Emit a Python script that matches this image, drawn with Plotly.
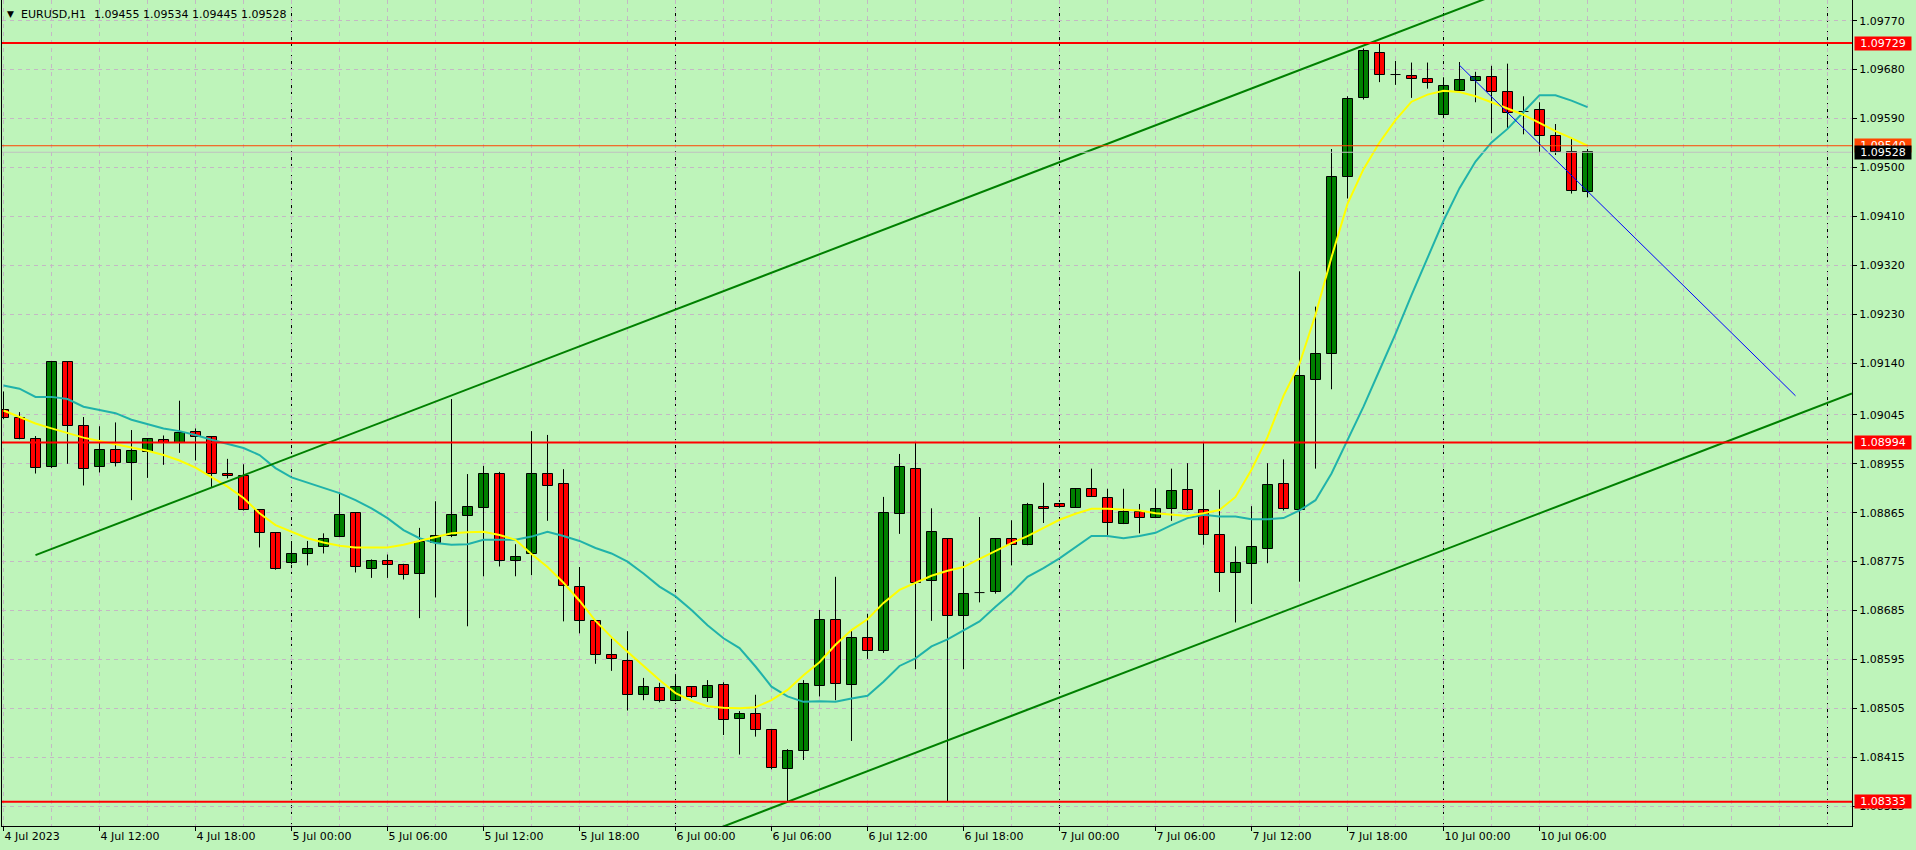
import plotly.graph_objects as go
import pandas as pd

symbol = "EURUSD,H1"
header_prices = "1.09455 1.09534 1.09445 1.09528"

times = (list(pd.date_range("2023-07-04 06:00", "2023-07-07 23:00", freq="h"))
         + list(pd.date_range("2023-07-10 00:00", "2023-07-10 09:00", freq="h")))

opens = [1.09053, 1.09039, 1.09001, 1.08949, 1.09142, 1.09024, 1.08949, 1.08980, 1.08956, 1.08976,
         1.08998, 1.08993, 1.09013, 1.09004, 1.08937, 1.08932, 1.08869, 1.08827, 1.08772, 1.08789,
         1.08802, 1.08820, 1.08864, 1.08761, 1.08777, 1.08768, 1.08752, 1.08809, 1.08822, 1.08859,
         1.08873, 1.08937, 1.08776, 1.08789, 1.08937, 1.08917, 1.08728, 1.08666, 1.08603, 1.08592,
         1.08530, 1.08542, 1.08518, 1.08544, 1.08524, 1.08548, 1.08485, 1.08495, 1.08465, 1.08393,
         1.08426, 1.08547, 1.08667, 1.08548, 1.08634, 1.08611, 1.08862, 1.08945, 1.08739, 1.08816,
         1.08675, 1.08718, 1.08719, 1.08816, 1.08805, 1.08875, 1.08881, 1.08874, 1.08909, 1.08892,
         1.08844, 1.08866, 1.08855, 1.08872, 1.08906, 1.08869, 1.08824, 1.08754, 1.08770, 1.08799,
         1.08917, 1.08869, 1.09109, 1.09157, 1.09482, 1.09627, 1.09710, 1.09671, 1.09668, 1.09662,
         1.09597, 1.09640, 1.09659, 1.09666, 1.09639, 1.09603, 1.09605, 1.09558, 1.09528, 1.09455]
highs = [1.09088, 1.09050, 1.09006, 1.09144, 1.09144, 1.09041, 1.09024, 1.09031, 1.09017, 1.09002,
         1.09007, 1.09071, 1.09020, 1.09005, 1.08964, 1.08954, 1.08869, 1.08828, 1.08811, 1.08813,
         1.08827, 1.08902, 1.08866, 1.08779, 1.08788, 1.08771, 1.08837, 1.08886, 1.09074, 1.08936,
         1.08951, 1.08940, 1.08807, 1.09015, 1.09008, 1.08945, 1.08765, 1.08666, 1.08633, 1.08647,
         1.08561, 1.08552, 1.08568, 1.08544, 1.08557, 1.08553, 1.08500, 1.08530, 1.08465, 1.08430,
         1.08557, 1.08686, 1.08747, 1.08649, 1.08679, 1.08894, 1.08973, 1.08994, 1.08873, 1.08818,
         1.08775, 1.08857, 1.08818, 1.08851, 1.08883, 1.08920, 1.08882, 1.08909, 1.08946, 1.08909,
         1.08909, 1.08881, 1.08910, 1.08946, 1.08956, 1.08993, 1.08907, 1.08803, 1.08877, 1.08956,
         1.08963, 1.09309, 1.09244, 1.09534, 1.09631, 1.09719, 1.09729, 1.09696, 1.09693, 1.09693,
         1.09666, 1.09694, 1.09676, 1.09687, 1.09691, 1.09631, 1.09620, 1.09580, 1.09554, 1.09534]
lows = [1.09037, 1.09000, 1.08937, 1.08947, 1.08955, 1.08915, 1.08939, 1.08950, 1.08888, 1.08929,
        1.08953, 1.08975, 1.08961, 1.08912, 1.08928, 1.08869, 1.08801, 1.08760, 1.08770, 1.08768,
        1.08790, 1.08820, 1.08755, 1.08745, 1.08745, 1.08742, 1.08671, 1.08709, 1.08820, 1.08656,
        1.08748, 1.08766, 1.08748, 1.08750, 1.08850, 1.08665, 1.08643, 1.08587, 1.08574, 1.08501,
        1.08520, 1.08516, 1.08518, 1.08524, 1.08517, 1.08456, 1.08420, 1.08453, 1.08393, 1.08333,
        1.08410, 1.08527, 1.08520, 1.08445, 1.08596, 1.08607, 1.08826, 1.08577, 1.08666, 1.08334,
        1.08577, 1.08700, 1.08716, 1.08768, 1.08805, 1.08846, 1.08874, 1.08874, 1.08894, 1.08824,
        1.08844, 1.08827, 1.08855, 1.08850, 1.08869, 1.08806, 1.08719, 1.08663, 1.08697, 1.08772,
        1.08869, 1.08738, 1.08946, 1.09092, 1.09443, 1.09625, 1.09657, 1.09652, 1.09628, 1.09645,
        1.09594, 1.09640, 1.09620, 1.09563, 1.09572, 1.09561, 1.09528, 1.09523, 1.09452, 1.09445]
closes = [1.09039, 1.09001, 1.08947, 1.09142, 1.09024, 1.08945, 1.08980, 1.08956, 1.08978, 1.09000,
          1.08993, 1.09012, 1.09005, 1.08937, 1.08932, 1.08869, 1.08827, 1.08762, 1.08789, 1.08799,
          1.08817, 1.08861, 1.08765, 1.08776, 1.08768, 1.08750, 1.08811, 1.08822, 1.08861, 1.08875,
          1.08936, 1.08777, 1.08783, 1.08936, 1.08914, 1.08730, 1.08666, 1.08603, 1.08596, 1.08530,
          1.08544, 1.08518, 1.08544, 1.08526, 1.08546, 1.08484, 1.08495, 1.08465, 1.08396, 1.08426,
          1.08549, 1.08667, 1.08549, 1.08634, 1.08611, 1.08864, 1.08949, 1.08735, 1.08829, 1.08675,
          1.08716, 1.08718, 1.08816, 1.08805, 1.08879, 1.08872, 1.08875, 1.08909, 1.08894, 1.08846,
          1.08866, 1.08855, 1.08872, 1.08904, 1.08869, 1.08824, 1.08754, 1.08772, 1.08802, 1.08915,
          1.08872, 1.09116, 1.09157, 1.09483, 1.09626, 1.09714, 1.09671, 1.09671, 1.09662, 1.09655,
          1.09650, 1.09661, 1.09666, 1.09639, 1.09600, 1.09603, 1.09558, 1.09528, 1.09456, 1.09528]

ma_fast = [1.09053, 1.09041, 1.09029, 1.09020, 1.09011, 1.09003, 1.08997, 1.08991, 1.08985, 1.08979,
           1.08971, 1.08961, 1.08948, 1.08931, 1.08913, 1.08892, 1.08864, 1.08842, 1.08830, 1.08818,
           1.08810, 1.08804, 1.08801, 1.08801, 1.08801, 1.08806, 1.08813, 1.08821, 1.08827, 1.08829,
           1.08830, 1.08824, 1.08815, 1.08789, 1.08765, 1.08736, 1.08703, 1.08666, 1.08636, 1.08609,
           1.08583, 1.08557, 1.08533, 1.08519, 1.08509, 1.08506, 1.08505, 1.08507, 1.08520, 1.08539,
           1.08566, 1.08590, 1.08622, 1.08649, 1.08669, 1.08699, 1.08723, 1.08736, 1.08749, 1.08758,
           1.08765, 1.08780, 1.08795, 1.08809, 1.08822, 1.08837, 1.08852, 1.08863, 1.08872, 1.08872,
           1.08871, 1.08869, 1.08864, 1.08861, 1.08859, 1.08864, 1.08870, 1.08894, 1.08944, 1.09004,
           1.09080, 1.09139, 1.09229, 1.09335, 1.09433, 1.09497, 1.09546, 1.09587, 1.09621, 1.09634,
           1.09641, 1.09639, 1.09631, 1.09620, 1.09609, 1.09597, 1.09582, 1.09567, 1.09554, 1.09540]
ma_slow = [1.09099, 1.09093, 1.09078, 1.09078, 1.09074, 1.09060, 1.09054, 1.09048, 1.09036, 1.09028,
           1.09020, 1.09015, 1.09008, 1.08999, 1.08991, 1.08984, 1.08971, 1.08947, 1.08930, 1.08920,
           1.08910, 1.08901, 1.08888, 1.08873, 1.08855, 1.08833, 1.08818, 1.08809, 1.08806, 1.08807,
           1.08815, 1.08815, 1.08815, 1.08821, 1.08830, 1.08822, 1.08813, 1.08800, 1.08790, 1.08775,
           1.08753, 1.08729, 1.08711, 1.08686, 1.08658, 1.08634, 1.08616, 1.08582, 1.08545, 1.08527,
           1.08517, 1.08518, 1.08517, 1.08523, 1.08528, 1.08554, 1.08583, 1.08597, 1.08619, 1.08632,
           1.08648, 1.08665, 1.08692, 1.08717, 1.08747, 1.08763, 1.08781, 1.08802, 1.08822, 1.08822,
           1.08818, 1.08822, 1.08828, 1.08842, 1.08855, 1.08861, 1.08858, 1.08858, 1.08853, 1.08853,
           1.08855, 1.08869, 1.08888, 1.08937, 1.08997, 1.09060, 1.09127, 1.09194, 1.09265, 1.09335,
           1.09402, 1.09462, 1.09511, 1.09546, 1.09571, 1.09602, 1.09633, 1.09633, 1.09623, 1.09611]

level_lines = [1.09729, 1.08994, 1.08333]
ask_price = 1.09540
bid_price = 1.09528

# equidistant channel: two anchors of the upper line, one point on the lower line (bar index, price)
channel_bars = [2, 84]
channel_prices = [1.08787, 1.09713]
channel_low_bar = 49
channel_low_price = 1.08333

# blue trend line anchors (bar index, price)
trend_bars = [91, 112]
trend_prices = [1.09688, 1.09080]

y_tick_labels = ["1.09770", "1.09680", "1.09590", "1.09500", "1.09410", "1.09320", "1.09230",
                 "1.09140", "1.09045", "1.08955", "1.08865", "1.08775", "1.08685", "1.08595",
                 "1.08505", "1.08415", "1.08325"]

# ---------------------------------------------------------------- styling
BG = "#BEF4BA"
GRID = "#C4B8C4"
UP = "#008000"
DOWN = "#FF0000"
X0 = -0.09375
X1 = X0 + 1850 / 16
Y_RANGE = [1.082886, 1.098081]

idx = list(range(len(times)))
fig = go.Figure()

# wicks
wx, wy = [], []
for i in idx:
    wx += [i, i, None]
    wy += [lows[i], highs[i], None]
fig.add_trace(go.Scatter(x=wx, y=wy, mode="lines", line=dict(color="black", width=1),
                         hoverinfo="skip"))

# bodies
body = [i for i in idx if abs(closes[i] - opens[i]) > 1e-7]
fig.add_trace(go.Bar(
    x=body,
    base=[min(opens[i], closes[i]) for i in body],
    y=[abs(closes[i] - opens[i]) for i in body],
    width=0.625,
    marker=dict(color=[UP if closes[i] > opens[i] else DOWN for i in body],
                line=dict(color="black", width=1)),
    hoverinfo="skip"))

# doji
dx, dy = [], []
for i in idx:
    if abs(closes[i] - opens[i]) <= 1e-7:
        dx += [i - 0.3125, i + 0.3125, None]
        dy += [opens[i], opens[i], None]
fig.add_trace(go.Scatter(x=dx, y=dy, mode="lines", line=dict(color="black", width=1),
                         hoverinfo="skip"))

# moving averages
fig.add_trace(go.Scatter(x=idx, y=ma_slow, mode="lines", line=dict(color="#20B2AA", width=2),
                         hoverinfo="skip"))
fig.add_trace(go.Scatter(x=idx, y=ma_fast, mode="lines", line=dict(color="#FFFF00", width=2),
                         hoverinfo="skip"))

# channel
slope = (channel_prices[1] - channel_prices[0]) / (channel_bars[1] - channel_bars[0])
up_end = channel_prices[0] + slope * (X1 - channel_bars[0])
offset = channel_low_price - (channel_prices[0] + slope * (channel_low_bar - channel_bars[0]))
fig.add_trace(go.Scatter(x=[channel_bars[0], X1], y=[channel_prices[0], up_end], mode="lines",
                         line=dict(color="#008000", width=2), hoverinfo="skip"))
fig.add_trace(go.Scatter(x=[channel_bars[0], X1], y=[channel_prices[0] + offset, up_end + offset],
                         mode="lines", line=dict(color="#008000", width=2), hoverinfo="skip"))

# blue trend line
fig.add_trace(go.Scatter(x=trend_bars, y=trend_prices, mode="lines",
                         line=dict(color="#0000FF", width=1), hoverinfo="skip"))

shapes = []
# day separators
day_starts = [i for i in idx if i > 0 and times[i].date() != times[i - 1].date()]
day_starts.append(day_starts[-1] + 24)
for d in day_starts:
    shapes.append(dict(type="line", xref="x", yref="paper", x0=d, x1=d, y0=0, y1=1,
                       line=dict(color="black", width=1, dash="3px,3px"), layer="below"))
for p in level_lines:
    shapes.append(dict(type="line", xref="paper", yref="y", x0=0, x1=1, y0=p, y1=p,
                       line=dict(color="#FF0000", width=2), layer="above"))
shapes.append(dict(type="line", xref="paper", yref="y", x0=0, x1=1, y0=ask_price, y1=ask_price,
                   line=dict(color="#FF4500", width=1), layer="above"))
shapes.append(dict(type="line", xref="paper", yref="y", x0=0, x1=1, y0=bid_price, y1=bid_price,
                   line=dict(color="#C0C0C0", width=1), layer="above"))

annotations = []
annotations.append(dict(xref="paper", yref="paper", x=0, y=1, xanchor="left", yanchor="top",
                        xshift=3, yshift=-7, text="▼", showarrow=False,
                        font=dict(size=9, color="black")))
annotations.append(dict(xref="paper", yref="paper", x=0, y=1, xanchor="left", yanchor="top",
                        xshift=17, yshift=-6, text=symbol, showarrow=False))
annotations.append(dict(xref="paper", yref="paper", x=0, y=1, xanchor="left", yanchor="top",
                        xshift=90, yshift=-6, text=header_prices, showarrow=False))


def price_label(p, bg):
    return dict(xref="paper", yref="y", x=1, y=p, xanchor="left", yanchor="middle", xshift=2,
                text=f"{p:.5f}", showarrow=False, bgcolor=bg, width=56, height=13, borderpad=0,
                align="center", font=dict(color="white", size=11))


for p in level_lines:
    annotations.append(price_label(p, "#FF0000"))
annotations.append(price_label(ask_price, "#FF4500"))
annotations.append(price_label(bid_price, "#000000"))

label_idx = [i for i in idx if times[i].hour % 6 == 0]
label_txt = []
for k, i in enumerate(label_idx):
    t = times[i]
    if k == 0:
        label_txt.append(f"{t.day} {t.strftime('%b')} {t.year}")
    else:
        label_txt.append(f"{t.day} {t.strftime('%b')} {t.strftime('%H:%M')}")

fig.update_layout(
    width=1916, height=850,
    margin=dict(l=2, r=64, t=0, b=24, autoexpand=False),
    paper_bgcolor=BG, plot_bgcolor=BG,
    showlegend=False, bargap=0,
    font=dict(family="DejaVu Sans", size=11, color="black"),
    shapes=shapes, annotations=annotations,
)
fig.update_xaxes(
    range=[X0, X1], tickmode="array", tickvals=label_idx, ticktext=label_txt,
    ticks="outside", ticklen=4, tickcolor="black", ticklabelposition="outside right",
    showline=True, mirror=False, linecolor="black", linewidth=1,
    showgrid=True, gridcolor=GRID, griddash="4px,4px", gridwidth=1,
    minor=dict(tickmode="linear", tick0=0, dtick=3, showgrid=True, gridcolor=GRID,
               griddash="4px,4px", gridwidth=1, ticks=""),
    zeroline=False, fixedrange=True, automargin=False,
)
fig.update_yaxes(
    side="right", range=Y_RANGE, tickmode="array",
    tickvals=[float(v) for v in y_tick_labels], ticktext=y_tick_labels,
    ticks="outside", ticklen=4, tickcolor="black",
    showline=True, mirror=True, linecolor="black", linewidth=1,
    showgrid=True, gridcolor=GRID, griddash="4px,4px", gridwidth=1,
    zeroline=False, fixedrange=True, automargin=False,
)

fig.write_html("out.html", config={"displayModeBar": False},
               post_script="document.body.style.margin='0';")
